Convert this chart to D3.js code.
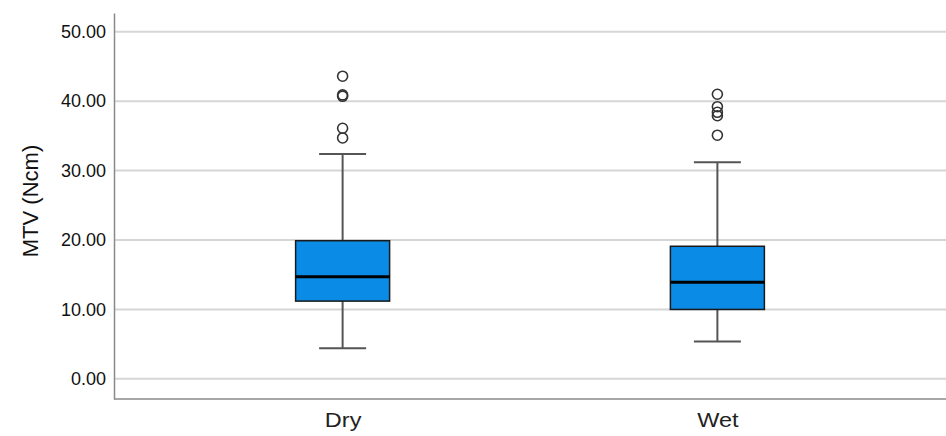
<!DOCTYPE html>
<html>
<head>
<meta charset="utf-8">
<script src="https://cdn.jsdelivr.net/npm/d3@7"></script>
<style>
  body { margin: 0; background: #fff; }
  text { font-family: Arial, "Liberation Sans", Helvetica, sans-serif; fill: #111; }
</style>
</head>
<body>
<div id="chart"></div>
<script>
// values
var categories = ["Dry", "Wet"];
var whiskerLow = [4.4, 5.4];
var q1 = [11.2, 10.0];
var median = [14.7, 13.9];
var q3 = [19.9, 19.1];
var whiskerHigh = [32.4, 31.2];
var outliers = [
    [43.6, 40.9, 40.7, 36.1, 34.7],
    [41.0, 39.2, 38.4, 37.9, 35.1]
];
var yTicks = [0, 10, 20, 30, 40, 50];

var width = 946, height = 436;
var margin = { top: 13, right: 0, bottom: 37, left: 114 };

var svg = d3.select("#chart").append("svg")
    .attr("width", width)
    .attr("height", height);

var x = d3.scalePoint()
    .domain(categories)
    .range([margin.left, width - margin.right])
    .padding(0.61);

var y = d3.scaleLinear()
    .domain([-2.9, 52.7])
    .range([height - margin.bottom, margin.top]);

// gridlines
svg.append("g").selectAll("line")
    .data(yTicks)
    .enter().append("line")
    .attr("x1", margin.left)
    .attr("x2", width - margin.right)
    .attr("y1", function(d) { return y(d); })
    .attr("y2", function(d) { return y(d); })
    .style("stroke", "#d6d6d6")
    .style("stroke-width", 2);

// y axis
var yAxis = svg.append("g")
    .attr("transform", "translate(" + margin.left + ",0)")
    .call(d3.axisLeft(y).tickValues(yTicks).tickSize(0).tickPadding(8)
        .tickFormat(d3.format(".2f")));
yAxis.select(".domain").style("stroke", "#8a8a8a").style("stroke-width", 1.5);
yAxis.selectAll("text").style("font-size", "18px").style("fill", "#111");

// x axis
var xAxis = svg.append("g")
    .attr("transform", "translate(0," + (height - margin.bottom) + ")")
    .call(d3.axisBottom(x).tickSize(0).tickPadding(13));
xAxis.select(".domain")
    .attr("d", "M" + margin.left + ",0H" + (width - margin.right))
    .style("stroke", "#8a8a8a").style("stroke-width", 1.5);
xAxis.selectAll("text").style("font-size", "21px").style("fill", "#222")
    .attr("transform", "scale(1.12,1)");

// y axis title
svg.append("text")
    .attr("transform", "translate(38," + 201 + ") rotate(-90)")
    .attr("text-anchor", "middle")
    .style("font-size", "22px")
    .text("MTV (Ncm)");

var boxW = 94, capW = 47;

var groups = svg.selectAll(".box")
    .data(categories)
    .enter().append("g")
    .attr("class", "box");

// whiskers
groups.append("line")
    .attr("x1", function(d) { return x(d); })
    .attr("x2", function(d) { return x(d); })
    .attr("y1", function(d, i) { return y(whiskerLow[i]); })
    .attr("y2", function(d, i) { return y(whiskerHigh[i]); })
    .style("stroke", "#555")
    .style("stroke-width", 2);

[whiskerLow, whiskerHigh].forEach(function(arr) {
    groups.append("line")
        .attr("x1", function(d) { return x(d) - capW / 2; })
        .attr("x2", function(d) { return x(d) + capW / 2; })
        .attr("y1", function(d, i) { return y(arr[i]); })
        .attr("y2", function(d, i) { return y(arr[i]); })
        .style("stroke", "#555")
        .style("stroke-width", 2);
});

// boxes
groups.append("rect")
    .attr("x", function(d) { return x(d) - boxW / 2; })
    .attr("width", boxW)
    .attr("y", function(d, i) { return y(q3[i]); })
    .attr("height", function(d, i) { return y(q1[i]) - y(q3[i]); })
    .style("fill", "#0a8be6")
    .style("stroke", "#1a1a1a")
    .style("stroke-width", 1.5);

groups.append("line")
    .attr("x1", function(d) { return x(d) - boxW / 2; })
    .attr("x2", function(d) { return x(d) + boxW / 2; })
    .attr("y1", function(d, i) { return y(median[i]); })
    .attr("y2", function(d, i) { return y(median[i]); })
    .style("stroke", "#000")
    .style("stroke-width", 3);

// outliers
groups.each(function(d, i) {
    d3.select(this).selectAll("circle")
        .data(outliers[i])
        .enter().append("circle")
        .attr("cx", x(d))
        .attr("cy", function(v) { return y(v); })
        .attr("r", 5)
        .style("fill", "none")
        .style("stroke", "#333")
        .style("stroke-width", 1.6);
});
</script>
</body>
</html>
